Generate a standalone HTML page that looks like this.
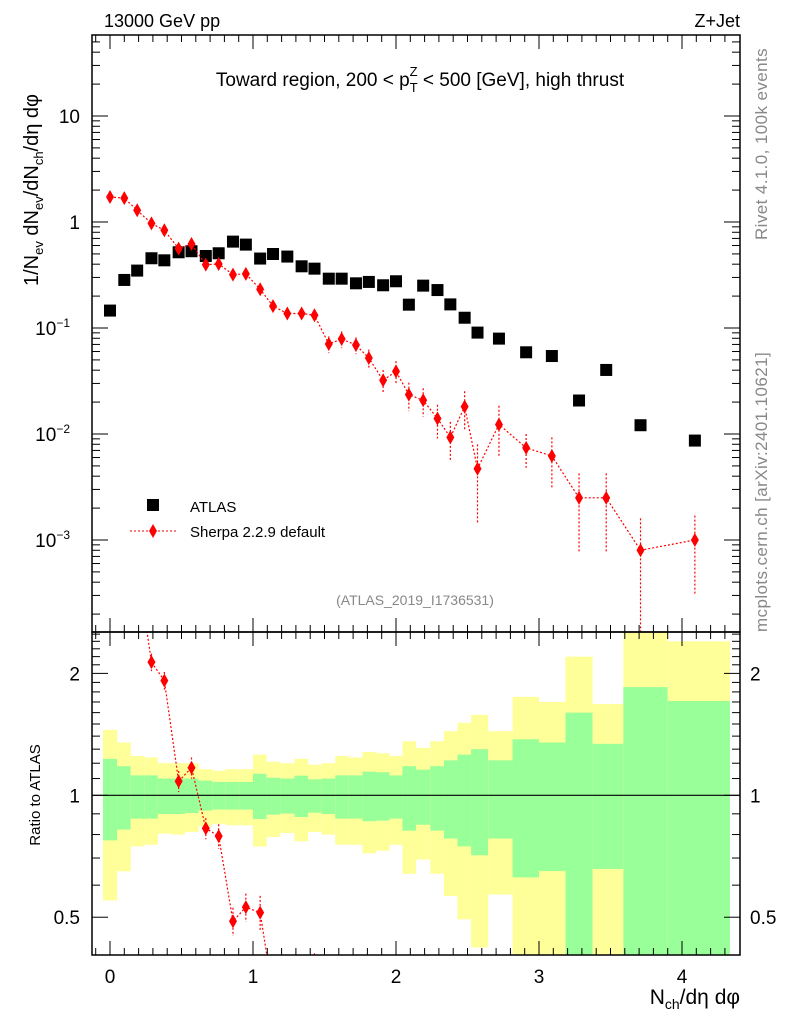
<!DOCTYPE html>
<html><head><meta charset="utf-8"><style>
html,body{margin:0;padding:0;background:#fff;overflow:hidden;width:786px;height:1024px}
svg{display:block;position:absolute;left:0;top:0}
svg text{font-family:"Liberation Sans",sans-serif}
</style></head><body>
<svg id="c" width="786" height="1024" viewBox="0 0 786 1024" overflow="hidden" xmlns="http://www.w3.org/2000/svg">
<g id="bands"></g><g id="marks"></g><g id="axes"></g>
<text x="104" y="27" font-size="18">13000 GeV pp</text>
<text x="740" y="27" font-size="18" text-anchor="end">Z+Jet</text>
<text x="420" y="86" font-size="19" text-anchor="middle">Toward region, 200 &lt; p<tspan font-size="13" dy="6">T</tspan><tspan font-size="13" dx="-8" dy="-16">Z</tspan><tspan dy="10"> &lt; 500 [GeV], high thrust</tspan></text>
<text transform="translate(38,190) rotate(-90)" font-size="20" text-anchor="middle">1/N<tspan font-size="13" dy="5">ev</tspan><tspan dy="-5"> dN</tspan><tspan font-size="13" dy="5">ev</tspan><tspan dy="-5">/dN</tspan><tspan font-size="13" dy="5">ch</tspan><tspan dy="-5">/dη dφ</tspan></text>
<text transform="translate(40,795) rotate(-90)" font-size="15" text-anchor="middle">Ratio to ATLAS</text>
<text transform="translate(767,240) rotate(-90)" font-size="17" fill="#888" letter-spacing="0.4">Rivet 4.1.0,  100k events</text>
<text transform="translate(767,632) rotate(-90)" font-size="17" fill="#888" letter-spacing="0.4">mcplots.cern.ch [arXiv:2401.10621]</text>
<text x="415" y="605" font-size="14" fill="#888" text-anchor="middle">(ATLAS_2019_I1736531)</text>
<rect x="147" y="499" width="12" height="12" fill="#000"/>
<text x="190" y="512" font-size="15">ATLAS</text>
<line x1="130" y1="531" x2="176" y2="531" stroke="red" stroke-dasharray="2,2"/>
<polygon points="153,524 157,531 153,538 149,531" fill="red"/>
<text x="190" y="537" font-size="15">Sherpa 2.2.9 default</text>
<text x="740" y="1004" font-size="21" text-anchor="end">N<tspan font-size="14" dy="5">ch</tspan><tspan dy="-5">/dη dφ</tspan></text>
</svg>
<script>
const xVals=[0,0.1,0.19,0.29,0.38,0.48,0.57,0.67,0.76,0.86,0.95,1.05,1.14,1.24,1.34,1.43,1.53,1.62,1.72,1.81,1.91,2.0,2.09,2.19,2.29,2.38,2.48,2.57,2.72,2.91,3.09,3.28,3.47,3.71,4.09];
const atlas=[0.146,0.284,0.348,0.455,0.435,0.518,0.53,0.478,0.507,0.653,0.612,0.452,0.499,0.472,0.382,0.363,0.292,0.292,0.264,0.272,0.253,0.276,0.166,0.251,0.228,0.167,0.125,0.0905,0.0794,0.059,0.0544,0.0207,0.0402,0.0121,0.00867];
const sherpa=[1.72,1.68,1.29,0.97,0.835,0.561,0.62,0.396,0.402,0.319,0.324,0.232,0.161,0.137,0.137,0.132,0.0706,0.0787,0.0691,0.0521,0.0321,0.039,0.0235,0.0208,0.014,0.0093,0.0181,0.0047,0.0123,0.0074,0.0062,0.0025,0.0025,0.0008,0.001];
const sherpaRelErr=[0.04,0.04,0.04,0.05,0.05,0.06,0.06,0.06,0.07,0.08,0.08,0.1,0.1,0.12,0.12,0.12,0.18,0.18,0.18,0.2,0.25,0.25,0.3,0.3,0.35,0.4,0.4,0.7,0.5,0.35,0.5,0.7,0.7,1.0,0.7];
const greenHi=[1.23,1.18,1.12,1.12,1.10,1.10,1.10,1.087,1.079,1.079,1.079,1.13,1.105,1.10,1.118,1.095,1.10,1.12,1.12,1.144,1.14,1.12,1.18,1.157,1.18,1.22,1.26,1.30,1.22,1.375,1.35,1.60,1.34,1.85,1.71];
const greenLo=[0.774,0.823,0.876,0.876,0.899,0.899,0.904,0.917,0.922,0.922,0.922,0.874,0.896,0.901,0.884,0.906,0.899,0.876,0.876,0.863,0.866,0.876,0.818,0.846,0.818,0.782,0.748,0.711,0.782,0.627,0.65,0.3,0.658,0.3,0.3];
const yellowHi=[1.45,1.35,1.25,1.24,1.20,1.20,1.20,1.16,1.15,1.16,1.16,1.26,1.21,1.20,1.23,1.19,1.20,1.25,1.24,1.28,1.27,1.25,1.36,1.31,1.36,1.44,1.51,1.58,1.44,1.75,1.70,2.20,1.68,3.0,2.40];
const yellowLo=[0.55,0.649,0.748,0.755,0.804,0.80,0.812,0.838,0.85,0.843,0.843,0.747,0.789,0.807,0.77,0.812,0.80,0.755,0.755,0.719,0.73,0.755,0.64,0.694,0.64,0.564,0.494,0.421,0.569,0.3,0.3,0.3,0.3,0.3,0.3];
const xTicks=[0,1,2,3,4];
const mainTicks=[1,0,-1,-2,-3];
const ratioTicks=[0.5,1,2];

const L=92,R=740,T=35,MB=632,RB=955;
const X=v=>110+143*v;
const Ym=v=>222-106*Math.log10(v);
const Yr=v=>795.3-405*Math.log10(v);
const NS='http://www.w3.org/2000/svg';
function mk(tag,attrs,parent){const e=document.createElementNS(NS,tag);for(const k in attrs)e.setAttribute(k,attrs[k]);document.getElementById(parent).appendChild(e);return e;}
function cl(v,a,b){return Math.max(a,Math.min(b,v));}

const edges=[];
for(let i=0;i<=xVals.length;i++){
  let px;
  if(i===0)px=X(xVals[0])-7;
  else if(i===xVals.length)px=R-10;
  else px=(X(xVals[i-1])+X(xVals[i]))/2;
  edges.push(px);
}
for(let i=0;i<xVals.length;i++){
  const x0=edges[i],w=edges[i+1]-edges[i];
  const yt=cl(Yr(yellowHi[i]),MB,RB),yb=cl(Yr(yellowLo[i]),MB,RB);
  const b1=mk('rect',{x:x0,y:yt,width:w,height:yb-yt,fill:'#ffff99'},'bands');
  
  
  const gt=cl(Yr(greenHi[i]),MB,RB),gb=cl(Yr(greenLo[i]),MB,RB);
  const b2=mk('rect',{x:x0,y:gt,width:w,height:gb-gt,fill:'#99ff99'},'bands');
  
  
}
const one=mk('line',{x1:L,x2:R,y1:Yr(1),y2:Yr(1),stroke:'#000','stroke-width':1.2},'bands');



const defs=mk('defs',{},'marks');
const c1=document.createElementNS(NS,'clipPath');c1.setAttribute('id','cm');defs.appendChild(c1);
const r1=document.createElementNS(NS,'rect');r1.setAttribute('x',L);r1.setAttribute('y',T);r1.setAttribute('width',R-L);r1.setAttribute('height',MB-T);c1.appendChild(r1);
const c2=document.createElementNS(NS,'clipPath');c2.setAttribute('id','cr');defs.appendChild(c2);
const r2=document.createElementNS(NS,'rect');r2.setAttribute('x',L);r2.setAttribute('y',MB);r2.setAttribute('width',R-L);r2.setAttribute('height',RB-MB);c2.appendChild(r2);
const gm=mk('g',{'clip-path':'url(#cm)',id:'gm'},'marks');
const gr=mk('g',{'clip-path':'url(#cr)',id:'gr'},'marks');

function sherpaSeries(parent,yf,vals,errs){
  const pts=vals.map((v,i)=>X(xVals[i])+','+yf(v)).join(' ');
  const pl=mk('polyline',{points:pts,fill:'none',stroke:'red','stroke-width':1.2,'stroke-dasharray':'2,2'},parent);
  
  
  vals.forEach((v,i)=>{
    const x=X(xVals[i]),y=yf(v);
    const lo=Math.max(v-errs[i],1e-6),hi=v+errs[i];
    const eb=mk('line',{x1:x,x2:x,y1:yf(hi),y2:yf(lo),stroke:'red','stroke-width':1.2,'stroke-dasharray':'2,2'},parent);
    
    
    const d=mk('polygon',{points:`${x},${y-7} ${x+4},${y} ${x},${y+7} ${x-4},${y}`,fill:'red'},parent);
    
    
  });
}
atlas.forEach((v,i)=>{
  const s=mk('rect',{x:X(xVals[i])-6,y:Ym(v)-6,width:12,height:12,fill:'#000'},'gm');
  
  
});
sherpaSeries('gm',Ym,sherpa,sherpa.map((v,i)=>v*sherpaRelErr[i]));
const rat=sherpa.map((v,i)=>v/atlas[i]);
sherpaSeries('gr',Yr,rat,rat.map((v,i)=>v*sherpaRelErr[i]));

function ln(x1,y1,x2,y2,w,name){const e=mk('line',{x1,y1,x2,y2,stroke:'#000','stroke-width':w||1},'axes');return e;}
function tx(x,y,s,anchor,size,name){const e=mk('text',{x,y,'font-size':size,'text-anchor':anchor},'axes');e.textContent=s;return e;}
const fr1=mk('rect',{x:L,y:T,width:R-L,height:MB-T,fill:'none',stroke:'#000','stroke-width':1.5},'axes');


const fr2=mk('rect',{x:L,y:MB,width:R-L,height:RB-MB,fill:'none',stroke:'#000','stroke-width':1.5},'axes');


for(let k=-1;k<=44;k++){
  const v=k/10,x=X(v);if(x<L+1||x>R-1)continue;
  const major=k%10===0,len=major?14:7;
  ln(x,RB,x,RB-len,1,'x-tick');ln(x,MB,x,MB+len,1,'x-tick');
  ln(x,MB,x,MB-len,1,'x-tick');ln(x,T,x,T+len,1,'x-tick');
}
xTicks.forEach(v=>tx(X(v),983,String(v),'middle',19,'x-tick-label'));
for(let e=-4;e<=1;e++){for(let m=1;m<10;m++){
  const v=m*Math.pow(10,e),y=Ym(v);if(y<T+1||y>MB-1)continue;
  const len=m===1?16:8;ln(L,y,L+len,y,1,'y-tick');ln(R,y,R-len,y,1,'y-tick');
}}
mainTicks.forEach(e=>{
  const y=Ym(Math.pow(10,e));
  if(e===1)tx(80,y+7,'10','end',19,'y-tick-label');
  else if(e===0)tx(80,y+7,'1','end',19,'y-tick-label');
  else{const t=tx(70,y+7,'10','end',19,'y-tick-label');const s=document.createElementNS(NS,'tspan');s.setAttribute('font-size','12');s.setAttribute('dy','-8');s.textContent='−'+(-e);t.appendChild(s);}
});
for(let k=4;k<=25;k++){
  const v=k/10,y=Yr(v);if(y<MB+1||y>RB-1)continue;
  const major=(k===5||k===10||k===20),len=major?16:8;
  ln(L,y,L+len,y,1,'ratio-tick');ln(R,y,R-len,y,1,'ratio-tick');
}
ratioTicks.forEach(v=>{const y=Yr(v);tx(80,y+7,String(v),'end',19,'ratio-tick-label');tx(750,y+7,String(v),'start',19,'ratio-tick-label');});
</script>
</body></html>
